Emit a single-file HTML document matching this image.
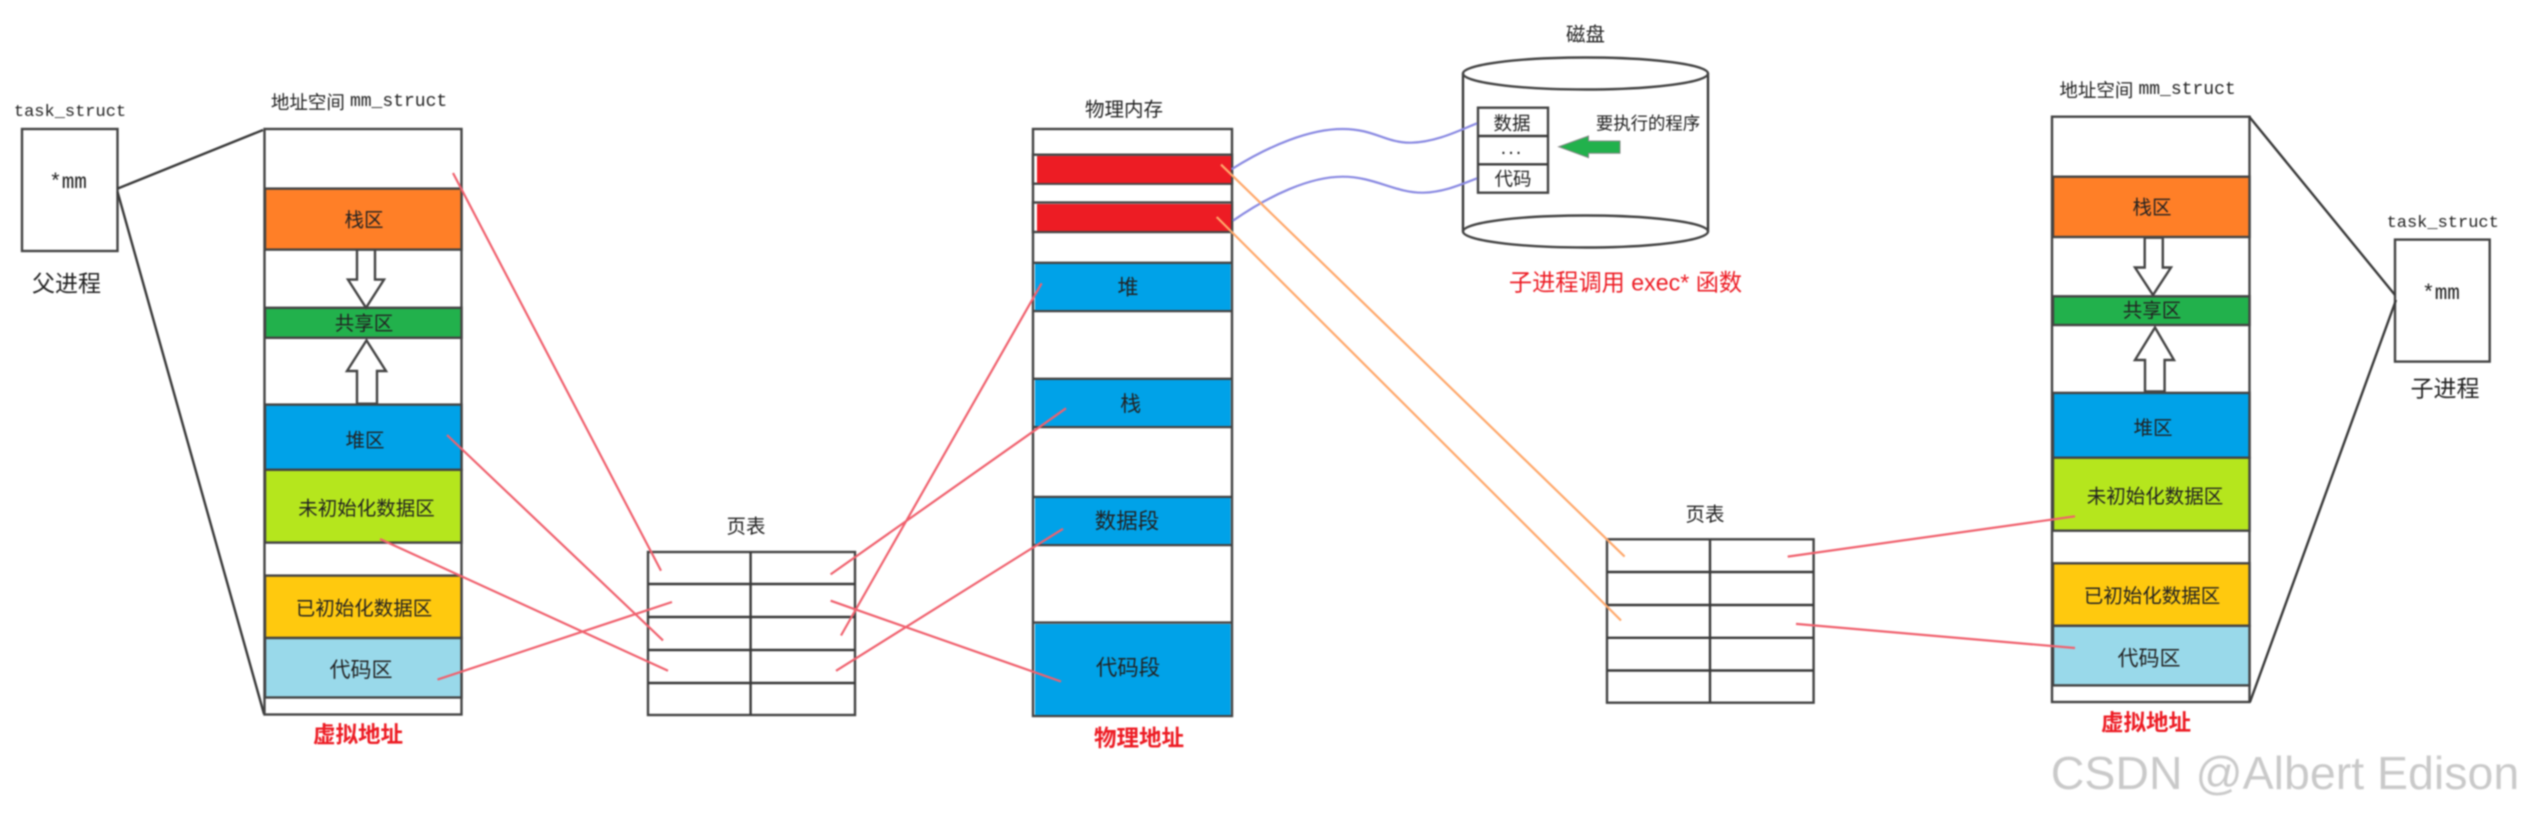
<!DOCTYPE html>
<html><head><meta charset="utf-8"><style>
html,body{margin:0;padding:0;background:#fff;width:2524px;height:813px;overflow:hidden}
svg{display:block;filter:blur(.7px)}
text{font-family:"Liberation Sans","Noto Sans CJK SC",sans-serif;fill:#222;text-anchor:middle;dominant-baseline:central}
.m{font-family:"Liberation Mono","Noto Sans CJK SC",monospace}
.t{font-size:19.5px}
.b{font-weight:700;font-size:22.5px;fill:#ed1c24}
.k{fill:none;stroke:#444;stroke-width:2.4}
.s{fill:#fff;stroke:#444;stroke-width:2.4}
.g{fill:none;stroke:#3a3a3a;stroke-width:2.4}
.r{stroke:#f0616e;stroke-width:2.2;fill:none}
.o{stroke:#ffa86b;stroke-width:2.2;fill:none}
.v{stroke:#8a8ae2;stroke-width:2.2;fill:none}
</style></head><body>
<svg width="2524" height="813" viewBox="0 0 2524 813" xmlns="http://www.w3.org/2000/svg">
<rect width="2524" height="813" fill="#fff"/>

<!-- left task_struct -->
<rect x="22" y="129" width="95.5" height="122" class="s" fill="#fdfdfd"/>
<text x="70" y="112.7" class="m" font-size="17">task_struct</text>
<text x="68" y="183.5" class="m" font-size="21">*mm</text>
<text x="66.5" y="283.5" font-size="23">父进程</text>
<path d="M117.5 188.6 263 130M117.5 191.7 264 714" class="g"/>

<!-- left mm_struct -->
<text x="359" y="102" font-size="18.5"><tspan>地址空间 </tspan><tspan class="m" font-size="18">mm_struct</tspan></text>
<rect x="264.5" y="129" width="197" height="585.5" class="s"/>
<g class="k">
<rect x="265" y="188.6" width="196.5" height="61" fill="#ff7f27"/>
<rect x="265" y="307.8" width="196.5" height="30" fill="#22b14c"/>
<rect x="265" y="404.6" width="196.5" height="65.2" fill="#00a2e8"/>
<rect x="265" y="469.8" width="196.5" height="72.8" fill="#b5e61d"/>
<rect x="265" y="575.6" width="196.5" height="62.4" fill="#ffc90e"/>
<rect x="265" y="638" width="196.5" height="59.5" fill="#99d9ea"/>
</g>
<path d="M357 249.7V279.6H348L366 307.8 384 279.6H375V249.7Z" class="s"/>
<path d="M366.5 340.4 347 371H357V403.7H377V371H386Z" class="s"/>
<text x="364" y="220.7" class="t">栈区</text>
<text x="364" y="323.8" class="t">共享区</text>
<text x="365" y="440.8" class="t">堆区</text>
<text x="366.5" y="509" class="t">未初始化数据区</text>
<text x="364" y="609" class="t">已初始化数据区</text>
<text x="361" y="670.7" font-size="21">代码区</text>
<text x="358" y="735" class="b">虚拟地址</text>

<!-- left page table -->
<text x="746" y="527" class="t">页表</text>
<rect x="648" y="552" width="207" height="163" class="s"/>
<path d="M648 584H855M648 617H855M648 650H855M648 683H855M750.6 552V715" class="g" stroke-width="2.8"/>

<!-- physical memory -->
<text x="1124" y="110" class="t">物理内存</text>
<rect x="1033" y="129" width="199" height="587" class="s"/>
<rect x="1033" y="154.7" width="199" height="29" class="s"/>
<rect x="1037" y="156" width="194" height="27" fill="#ed1c24"/>
<rect x="1033" y="202.5" width="199" height="29.5" class="s"/>
<rect x="1037" y="204" width="194" height="27" fill="#ed1c24"/>
<g class="k">
<path d="M1033 262.8H1232M1033 311H1232M1033 378.8H1232M1033 427H1232M1033 497H1232M1033 545H1232M1033 622.6H1232"/>
</g>
<rect x="1035" y="264" width="195.6" height="46" fill="#00a2e8"/>
<rect x="1035" y="380" width="195.6" height="46" fill="#00a2e8"/>
<rect x="1035" y="498" width="195.6" height="46" fill="#00a2e8"/>
<rect x="1035" y="624" width="195.6" height="91" fill="#00a2e8"/>
<text x="1128" y="287.8" font-size="21">堆</text>
<text x="1130.6" y="404.7" font-size="21">栈</text>
<text x="1127" y="521.7" font-size="21.5">数据段</text>
<text x="1128" y="668" font-size="21.5">代码段</text>
<text x="1139" y="738.6" class="b">物理地址</text>

<!-- disk -->
<text x="1585.5" y="35" class="t">磁盘</text>
<path d="M1463 73.5V231.5M1708 73.5V231.5" class="g"/>
<ellipse cx="1585.5" cy="73.5" rx="122.5" ry="16" class="k"/>
<ellipse cx="1585.5" cy="231.5" rx="122.5" ry="16" class="k"/>
<rect x="1478" y="107.7" width="70" height="85" class="s"/>
<path d="M1478 136H1548M1478 164.3H1548" class="g"/>
<text x="1512" y="123.3" font-size="18.5">数据</text>
<text x="1512" y="148" font-size="20" letter-spacing="2">...</text>
<text x="1513" y="179" font-size="18.5">代码</text>
<text x="1648" y="123.3" font-size="17.4">要执行的程序</text>
<path d="M1558.7 146.7 1588.5 136V141H1620V153.3H1588.5V157.7Z" fill="#22b14c" stroke="#888" stroke-width="1"/>
<text x="1625.5" y="282.3" font-size="23.2" style="fill:#ed1c24">子进程调用 exec* 函数</text>

<!-- blue curves -->
<path d="M1231.5 169.3C1270 145 1310 129 1342.5 129 1375 129 1385 143 1411 142.7 1437 142 1460 130 1477 123.3" class="v"/>
<path d="M1233 220.7C1270 195 1310 176.7 1342.5 176.7 1375 176.7 1395 193 1423 192.7 1445 192 1462 184 1477 178.3" class="v"/>

<!-- right page table -->
<text x="1705" y="515" class="t">页表</text>
<rect x="1607" y="539.3" width="206.6" height="163.4" class="s"/>
<path d="M1607 572H1813.6M1607 605H1813.6M1607 637.8H1813.6M1607 670.5H1813.6M1710 539.3V702.7" class="g" stroke-width="2.8"/>

<!-- right mm_struct -->
<text x="2147.5" y="89.8" font-size="18.5"><tspan>地址空间 </tspan><tspan class="m" font-size="18">mm_struct</tspan></text>
<rect x="2052" y="116.7" width="197.5" height="585.3" class="s"/>
<g class="k">
<rect x="2053" y="176.7" width="196.5" height="60.3" fill="#ff7f27"/>
<rect x="2053" y="296.3" width="196.5" height="28.7" fill="#22b14c"/>
<rect x="2053" y="392.9" width="196.5" height="64.8" fill="#00a2e8"/>
<rect x="2053" y="457.7" width="196.5" height="73" fill="#b5e61d"/>
<rect x="2053" y="563.3" width="196.5" height="62.5" fill="#ffc90e"/>
<rect x="2053" y="625.8" width="196.5" height="59.6" fill="#99d9ea"/>
</g>
<path d="M2144.7 237.7V267.5H2135L2153 295 2171 267.5H2162.8V237.7Z" class="s"/>
<path d="M2155 327.5 2135 360H2145V391.4H2164.6V360H2174Z" class="s"/>
<text x="2152" y="208" class="t">栈区</text>
<text x="2152" y="311" class="t">共享区</text>
<text x="2153" y="428.4" class="t">堆区</text>
<text x="2155" y="497" class="t">未初始化数据区</text>
<text x="2152" y="596.5" class="t">已初始化数据区</text>
<text x="2149" y="659" font-size="21">代码区</text>
<text x="2146" y="723" class="b">虚拟地址</text>

<!-- right task_struct -->
<rect x="2395" y="239.6" width="94.7" height="122" class="s" fill="#fdfdfd"/>
<text x="2442.7" y="223.3" class="m" font-size="17">task_struct</text>
<text x="2441" y="294.5" class="m" font-size="21">*mm</text>
<text x="2445" y="388.5" font-size="23">子进程</text>
<path d="M2249.5 117 2395 295M2250 702 2396 300" class="g"/>

<!-- red mapping lines -->
<path d="M453 173 661 570.8M447 435 663 640.4M380 539 668 670.8M437.5 679.6 672 602M830.6 574.4 1066 408.3M841 635.5 1041.6 283.3M836 670.8 1063 528.8M830.6 600.7 1061 681.5M1787.7 556.6 2075 516.3M1796 623.9 2075 648" class="r"/>
<!-- orange mapping lines -->
<path d="M1221 164.6 1624.6 556.6M1216.7 217 1621 620.5" class="o"/>

<!-- watermark -->
<text x="2285" y="773" font-size="46.5" style="fill:#c9c9c9;stroke:#e8e8e8;stroke-width:.5">CSDN @Albert Edison</text>
</svg>
</body></html>
